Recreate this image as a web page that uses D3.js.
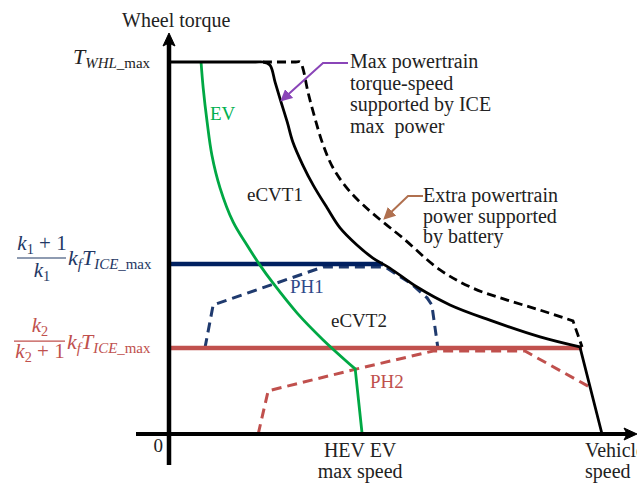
<!DOCTYPE html>
<html><head><meta charset="utf-8">
<script src="https://cdn.jsdelivr.net/npm/d3@7"></script>
<style>body{margin:0;background:#fff}svg text{font-family:'Liberation Serif','DejaVu Serif',serif}</style>
</head><body><svg id="c" width="637" height="484"></svg>
<script>
// ---- data (speed 0..100 = vehicle max speed, torque 0..100 = T_WHL_max) ----
const ecvt1 = [[0,100],[20.0,100],[21.7,100],[23.3,99.2],[24.5,94.6],[25.6,90.3],[27.3,83.9],[28.6,78.5],[30.9,72.3],[33.3,66.9],[36.5,60.8],[39.5,55.4],[43.4,50.8],[47.1,47.3],[51.0,44.6],[57.3,39.5],[64.9,34.7],[74.1,30.6],[85.7,26.1],[94.9,23.4],[100,0]];
const battery = [[21.7,100],[29.0,100],[30.3,100],[30.9,98.4],[32.1,91.9],[33.7,84.9],[35.6,77.7],[37.9,71.5],[41.1,66.1],[44.8,61.6],[49.4,57.0],[54.0,52.7],[62.6,44.1],[70.2,39.2],[78.1,36.0],[85.7,33.3],[93.3,30.4],[95.4,23.4]];
const ev = [[7.4,100],[7.9,93.0],[8.8,83.9],[9.9,75.0],[11.8,66.1],[14.8,57.0],[18.0,50.8],[21.0,45.4],[24.0,40.6],[29.6,32.5],[35.6,25.3],[43.0,17.5],[44.6,0]];
const ph1Level = [[0,45.7],[49.4,45.7]];
const ph1 = [[8.3,23.1],[10.2,34.7],[35.6,44.9],[49.4,44.9],[50.3,44.6],[55.7,40.6],[59.6,36.6],[60.7,34.7],[62.1,23.1]];
const ph2Level = [[0,23.1],[95.4,23.1]];
const ph2 = [[20.6,0],[22.9,11.6],[43.4,17.5],[61.0,22.3],[82.2,22.3],[97.2,12.6]];
const yTicks = [100, 45.7, 23.1];
const xTicks = [0, 44.6, 100];
const xTickLabels = [["0"],["HEV EV","max speed"],["Vehicle","speed"]];
const annot1 = ["Max powertrain","torque-speed","supported by ICE","max  power"];
const annot2 = ["Extra powertrain","power supported","by battery"];

const svg = d3.select("#c");
const x = d3.scaleLinear().domain([0,100]).range([169,602]);
const y = d3.scaleLinear().domain([0,100]).range([434,62]);

const defs = svg.append("defs");
function marker(id, color){
  defs.append("marker").attr("id",id).attr("viewBox","0 0 10 10").attr("refX",8).attr("refY",5)
    .attr("markerWidth",6).attr("markerHeight",6).attr("orient","auto-start-reverse")
    .append("path").attr("d","M0,0 L10,5 L0,10 z").attr("fill",color);
}
marker("mp","#8a45b8"); marker("mb","#b0704f");

const linLine = d3.line().x(d=>x(d[0])).y(d=>y(d[1]));
const smoothLine = d3.line().x(d=>x(d[0])).y(d=>y(d[1])).curve(d3.curveCatmullRom.alpha(0.5));
function smoothThenCorner(pts){ // smooth curve, final segment straight
  const last = pts[pts.length-1];
  return smoothLine(pts.slice(0,-1)) + "L" + x(last[0]) + "," + y(last[1]);
}

// levels and dashed PH curves
svg.append("path").attr("d",linLine(ph2)).attr("fill","none").attr("stroke","#c0504d").attr("stroke-width",3).attr("stroke-dasharray","10,6");
svg.append("path").attr("d",linLine(ph1)).attr("fill","none").attr("stroke","#1f3a6e").attr("stroke-width",3).attr("stroke-dasharray","10,6");
svg.append("path").attr("d",linLine(ph2Level)).attr("fill","none").attr("stroke","#c0504d").attr("stroke-width",4.5);
svg.append("path").attr("d",linLine(ph1Level)).attr("fill","none").attr("stroke","#002060").attr("stroke-width",4.5);

// EV
svg.append("path").attr("d",smoothThenCorner(ev)).attr("fill","none").attr("stroke","#00a844").attr("stroke-width",2.8);
// battery dashed
svg.append("path").attr("d",smoothThenCorner(battery)).attr("fill","none").attr("stroke","#000").attr("stroke-width",2.8).attr("stroke-dasharray","9,5");
// ICE max power
svg.append("path").attr("d",smoothThenCorner(ecvt1)).attr("fill","none").attr("stroke","#000").attr("stroke-width",2.8);

// axes
const x0 = x(0), y0 = y(0);
svg.append("line").attr("x1",x0).attr("x2",x0).attr("y1",465).attr("y2",42).attr("stroke","#000").attr("stroke-width",4.5);
svg.append("path").attr("d",`M${x0},33 L${x0-6},46 L${x0},43 L${x0+6},46 Z`).attr("fill","#000").attr("stroke","#000").attr("stroke-width",1);
svg.append("line").attr("x1",136).attr("x2",628).attr("y1",y0).attr("y2",y0).attr("stroke","#000").attr("stroke-width",3.8);
svg.append("path").attr("d",`M637,${y0} L624,${y0-6} L627,${y0} L624,${y0+6} Z`).attr("fill","#000").attr("stroke","#000").attr("stroke-width",1);

// axis title
svg.append("text").attr("x",122).attr("y",27).attr("font-size",20).attr("fill","#222").text("Wheel torque");

// x tick labels
svg.append("text").attr("x",x(xTicks[0])-6).attr("y",452).attr("text-anchor","end").attr("font-size",19).attr("fill","#222").text(xTickLabels[0][0]);
xTickLabels[1].forEach((t,i)=>svg.append("text").attr("x",x(xTicks[1])-2).attr("y",457+i*21).attr("text-anchor","middle").attr("font-size",20).attr("fill","#222").text(t));
xTickLabels[2].forEach((t,i)=>svg.append("text").attr("x",585).attr("y",457+i*21).attr("font-size",20).attr("fill","#222").text(t));

// math helper
function math(sel, parts, size){
  parts.forEach(p=>{
    const ts = sel.append("tspan").text(p.t);
    if(p.i) ts.attr("font-style","italic");
    if(p.sub){ ts.attr("font-size",size*0.68).attr("baseline-shift","-25%"); }
    else ts.attr("font-size",size);
  });
}
// T_WHL_max
const tw = svg.append("text").attr("x",73).attr("y",y(yTicks[0])+2).attr("fill","#222");
math(tw,[{t:"T",i:1},{t:"WHL",i:1,sub:1},{t:"_max",sub:1}],22);

function kfT(xp, yp, color){
  const t = svg.append("text").attr("x",xp).attr("y",yp).attr("fill",color);
  math(t,[{t:"k",i:1},{t:"f",i:1,sub:1},{t:"T",i:1},{t:"ICE",i:1,sub:1},{t:"_max",sub:1}],22);
}
// blue fraction
{
  const yb = y(yTicks[1]), c = "#1f3864";
  const n = svg.append("text").attr("x",42).attr("y",yb-14).attr("text-anchor","middle").attr("fill",c);
  math(n,[{t:"k",i:1},{t:"1",sub:1},{t:" + 1"}],21);
  svg.append("line").attr("x1",17).attr("x2",66).attr("y1",yb-6).attr("y2",yb-6).attr("stroke",c).attr("stroke-width",1.2);
  const d = svg.append("text").attr("x",42).attr("y",yb+13).attr("text-anchor","middle").attr("fill",c);
  math(d,[{t:"k",i:1},{t:"1",sub:1}],21);
  kfT(68, yb+1, c);
}
// red fraction
{
  const yr = y(yTicks[2]), c = "#c0504d";
  const n = svg.append("text").attr("x",40).attr("y",yr-16).attr("text-anchor","middle").attr("fill",c);
  math(n,[{t:"k",i:1},{t:"2",sub:1}],21);
  svg.append("line").attr("x1",14).attr("x2",65).attr("y1",yr-7).attr("y2",yr-7).attr("stroke",c).attr("stroke-width",1.2);
  const d = svg.append("text").attr("x",40).attr("y",yr+10).attr("text-anchor","middle").attr("fill",c);
  math(d,[{t:"k",i:1},{t:"2",sub:1},{t:" + 1"}],21);
  kfT(67, yr+1, c);
}

// curve labels
svg.append("text").attr("x",210).attr("y",120).attr("font-size",19).attr("fill","#00b050").text("EV");
svg.append("text").attr("x",247).attr("y",201).attr("font-size",19).attr("fill","#222").text("eCVT1");
svg.append("text").attr("x",290).attr("y",293).attr("font-size",19).attr("fill","#2f4a8a").text("PH1");
svg.append("text").attr("x",331).attr("y",327).attr("font-size",19).attr("fill","#222").text("eCVT2");
svg.append("text").attr("x",370).attr("y",388).attr("font-size",19).attr("fill","#c0504d").text("PH2");

// annotations
annot1.forEach((t,i)=>svg.append("text").attr("x",350).attr("y",68+i*21.7).attr("font-size",20).attr("fill","#222").style("white-space","pre").text(t));
annot2.forEach((t,i)=>svg.append("text").attr("x",423).attr("y",202+i*20.5).attr("font-size",20).attr("fill","#222").text(t));
svg.append("path").attr("d","M348,63 L323,63 L282,100").attr("fill","none").attr("stroke","#8a45b8").attr("stroke-width",2).attr("marker-end","url(#mp)");
svg.append("path").attr("d","M423,196 L408,196 L385,218").attr("fill","none").attr("stroke","#b0704f").attr("stroke-width",2).attr("marker-end","url(#mb)");
</script></body></html>
